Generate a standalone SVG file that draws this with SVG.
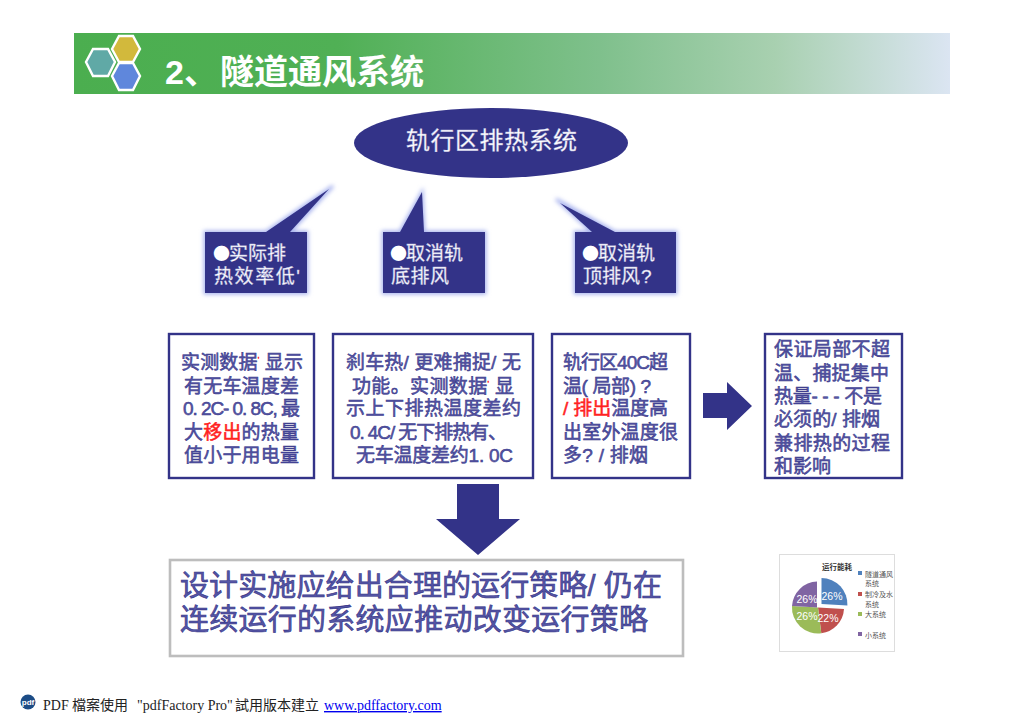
<svg xmlns="http://www.w3.org/2000/svg" width="1024" height="724" viewBox="0 0 1024 724">
<style>
text{font-family:"Liberation Sans","Noto Sans CJK SC",sans-serif}
.b{fill:#fff;stroke:#333388;stroke-width:2.4}
.t{font-size:19px;fill:#5656a4;stroke:#333388;stroke-width:.5}
.w{font-size:19px;fill:#fff;stroke:#b9b9dc;stroke-width:.4}
.bu{font-family:"Noto Sans CJK SC",sans-serif;font-size:17px;stroke:none}
.r{fill:#f22;stroke:#f22}
.f{fill:#333388}
.c{fill:#333388}
.big{font-size:29px;fill:#5656a4;stroke:#333388;stroke-width:.6}
.lg{font-size:7px;fill:#555}
.pc{font-size:10.500px;fill:#fff}
.fo{font-size:14px;fill:#222;font-family:"Liberation Serif","Noto Sans CJK TC",serif}
</style>
<defs>
<linearGradient id="g" x1="0" x2="1" y1="0" y2="0"><stop offset="0" stop-color="#4bae4f"/><stop offset=".3" stop-color="#50b055"/><stop offset=".6" stop-color="#7fc08c"/><stop offset=".8" stop-color="#a8d0b0"/><stop offset="1" stop-color="#dbe5f2"/></linearGradient>
<filter id="gl" x="-20%" y="-20%" width="140%" height="140%"><feGaussianBlur stdDeviation="2"/></filter>
</defs>
<rect width="1024" height="724" fill="#fff"/>
<g id="header">
<rect x="74" y="33" width="876" height="61" fill="url(#g)"/>
<g stroke="#fff" stroke-width="2.4">
<polygon points="86,62 93,49 108,49 115,62 108,76 93,76" fill="#60a9a6"/>
<polygon points="112,49 119,36 133,36 140,49 133,62 119,62" fill="#d2b93c"/>
<polygon points="112,76 119,63 133,63 140,76 133,90 119,90" fill="#5f87dc"/>
</g>
<text y="84" font-size="34" font-weight="700" fill="#fff"><tspan x="165">2、</tspan><tspan x="220">隧道通风系统</tspan></text>
</g>
<g id="root">
<ellipse cx="491" cy="143" rx="137" ry="35" fill="#333388"/>
<text x="406" y="149" class="w" textLength="171" style="font-size:24px">轨行区排热系统</text>
</g>
<g id="callout1">
<path d="M205,232H266L333,186L290,232H307V293H205Z" fill="#a9b4ee" stroke="#a9b4ee" stroke-width="3" filter="url(#gl)"/>
<path d="M205,232H266L329,189L290,232H307V293H205Z" class="f"/>
<text y="260" class="w"><tspan class="bu" x="213">●</tspan><tspan x="229">实际排</tspan></text>
<text x="214" y="283" class="w" textLength="86">热效率低'</text>
</g>
<g id="callout2">
<path d="M383,232H400L422,192L424,232H485V293H383Z" fill="#a9b4ee" stroke="#a9b4ee" stroke-width="3" filter="url(#gl)"/>
<path d="M383,232H400L422,192L424,232H485V293H383Z" class="f"/>
<text y="260" class="w"><tspan class="bu" x="390">●</tspan><tspan x="406">取消轨</tspan></text>
<text x="391" y="283" class="w" textLength="58">底排风</text>
</g>
<g id="callout3">
<path d="M575,232H592L556,199L615,232H676V293H575Z" fill="#a9b4ee" stroke="#a9b4ee" stroke-width="3" filter="url(#gl)"/>
<path d="M575,232H592L560,203L615,232H676V293H575Z" class="f"/>
<text y="260" class="w"><tspan class="bu" x="582">●</tspan><tspan x="598">取消轨</tspan></text>
<text y="283" class="w"><tspan x="583">顶排风</tspan><tspan x="641">?</tspan></text>
</g>
<g id="boxA">
<rect x="169" y="334" width="145" height="144" class="b"/>
<text x="181" y="369" class="t" textLength="122">实测数据<tspan class="r" font-size="8" dy="-7">'</tspan><tspan dy="7"> 显示</tspan></text>
<text x="184" y="393" class="t" textLength="115">有无车温度差</text>
<text x="183" y="415" class="t" textLength="117">0. 2C- 0. 8C, 最</text>
<text x="184" y="439" class="t" textLength="115">大<tspan class="r">移出</tspan>的热量</text>
<text x="184" y="462" class="t" textLength="115">值小于用电量</text>
</g>
<g id="boxB">
<rect x="333" y="334" width="200" height="144" class="b"/>
<text x="346" y="369" class="t" textLength="175">刹车热/ 更难捕捉/ 无</text>
<text x="352" y="393" class="t" textLength="162">功能。实测数据<tspan class="r" font-size="8" dy="-7">'</tspan><tspan dy="7"> 显</tspan></text>
<text x="346" y="415" class="t" textLength="175">示上下排热温度差约</text>
<text x="350" y="439" class="t" textLength="157">0. 4C/ 无下排热有、</text>
<text x="356" y="462" class="t" textLength="157">无车温度差约1. 0C</text>
</g>
<g id="boxC">
<rect x="552" y="334" width="138" height="144" class="b"/>
<text x="563" y="369" class="t" textLength="105">轨行区40C超</text>
<text x="563" y="393" class="t" textLength="88">温( 局部) ?</text>
<text x="563" y="415" class="t" textLength="105"><tspan class="r">/ 排出</tspan>温度高</text>
<text x="563" y="439" class="t" textLength="115">出室外温度很</text>
<text x="563" y="462" class="t" textLength="85">多? / 排烟</text>
</g>
<g id="boxD">
<rect x="765" y="334" width="137" height="144" class="b"/>
<text x="774" y="356" class="t" textLength="116">保证局部不超</text>
<text x="774" y="380" class="t" textLength="115">温、捕捉集中</text>
<text x="774" y="403" class="t" textLength="108">热量- - - 不是</text>
<text x="774" y="426" class="t" textLength="106">必须的/ 排烟</text>
<text x="774" y="450" class="t" textLength="116">兼排热的过程</text>
<text x="774" y="473" class="t" textLength="57">和影响</text>
</g>
<g id="connectors">
<polygon class="c" points="703,393 727,393 727,382 752,406 727,430 727,418 703,418"/>
<polygon class="c" points="457,484 499,484 499,519 520,519 478,555 436,519 457,519"/>
</g>
<g id="conclusion">
<rect x="170" y="560" width="513" height="96" fill="#fff" stroke="#bdbdbd" stroke-width="2.600"/>
<text x="180" y="596" class="big" textLength="482">设计实施应给出合理的运行策略/ 仍在</text>
<text x="180" y="630" class="big" textLength="468">连续运行的系统应推动改变运行策略</text>
</g>
<g id="chart">
<rect x="779.500" y="554.500" width="115" height="97" fill="#fff" stroke="#ddd"/>
<text x="837" y="570" font-size="7.500" font-weight="700" fill="#333" text-anchor="middle">运行能耗</text>
<path d="M821.500,604V578A26,26 0 0 1 847.400,605.600Z" fill="#4f81bd"/>
<path d="M818,607.500L844,609.100A26,26 0 0 1 821.300,633.300Z" fill="#c0504d"/>
<path d="M818,607.500L821.300,633.300A26,26 0 0 1 792,605.900Z" fill="#9bbb59"/>
<path d="M818,607.500L792,605.900A26,26 0 0 1 817,581.500L817,607.500Z" fill="#8064a2"/>
<text x="832" y="600" class="pc" text-anchor="middle">26%</text>
<text x="828" y="622" class="pc" text-anchor="middle">22%</text>
<text x="807" y="620" class="pc" text-anchor="middle">26%</text>
<text x="807" y="603" class="pc" text-anchor="middle">26%</text>
<rect x="858" y="571" width="4" height="4" fill="#4f81bd"/>
<rect x="858" y="592" width="4" height="4" fill="#c0504d"/>
<rect x="858" y="612" width="4" height="4" fill="#9bbb59"/>
<rect x="858" y="632" width="4" height="4" fill="#8064a2"/>
<text x="865" y="577" class="lg">隧道通风</text>
<text x="865" y="586" class="lg">系统</text>
<text x="865" y="597" class="lg">制冷及水</text>
<text x="865" y="607" class="lg">系统</text>
<text x="865" y="617" class="lg">大系统</text>
<text x="865" y="638" class="lg">小系统</text>
</g>
<g id="footer">
<circle cx="28" cy="702" r="7.500" fill="#1c4c86"/>
<text x="28" y="705" font-size="8" font-weight="700" fill="#fff" text-anchor="middle">pdf</text>
<text y="710" class="fo"><tspan x="43">PDF</tspan><tspan x="72">檔案使用</tspan><tspan x="137">"pdfFactory Pro"</tspan><tspan x="235">試用版本建立</tspan></text>
<text x="324" y="710" class="fo" style="fill:#00e" text-decoration="underline">www.pdffactory.com</text>
</g>
</svg>
